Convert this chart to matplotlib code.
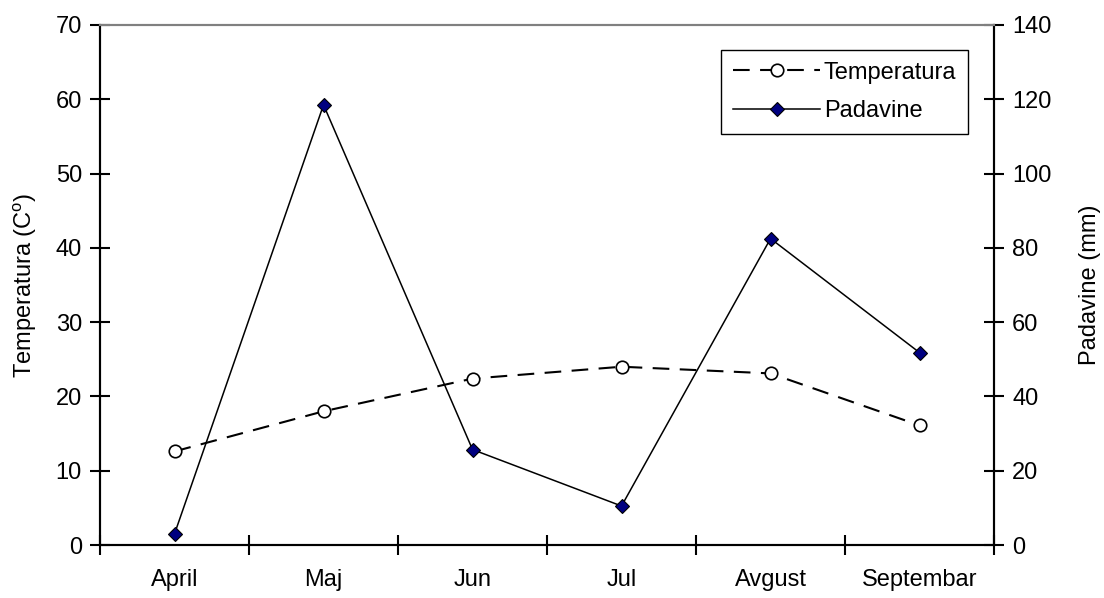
import matplotlib
matplotlib.use('Agg')
import matplotlib.pyplot as plt
from matplotlib.lines import Line2D

matplotlib.rcParams['font.family'] = 'Liberation Sans'
matplotlib.rcParams['mathtext.fontset'] = 'custom'
matplotlib.rcParams['mathtext.rm'] = 'Liberation Sans'
matplotlib.rcParams['axes.unicode_minus'] = False

# Data
months = ["April", "Maj", "Jun", "Jul", "Avgust", "Septembar"]
temperatura = [12.6, 18.0, 22.4, 24.0, 23.1, 16.1]
padavine = [3.0, 118.5, 25.7, 10.5, 82.5, 51.8]

FS = 17

fig = plt.figure(figsize=(11.04, 5.98), dpi=100)
ax = fig.add_axes([0.0906, 0.0886, 0.8098, 0.8696])
ax2 = ax.twinx()

x = list(range(len(months)))

ax.plot(x, temperatura, color='black', linewidth=1.5, dashes=(8, 5),
        marker='o', markersize=9, markerfacecolor='white',
        markeredgecolor='black', markeredgewidth=1.2, zorder=3)
ax2.plot(x, padavine, color='black', linewidth=1.1,
         marker='D', markersize=7, markerfacecolor='#000080',
         markeredgecolor='black', markeredgewidth=0.8, zorder=3)

# Axes limits and ticks
ax.set_xlim(-0.5, len(months) - 0.5)
ax.set_ylim(0, 70)
ax2.set_ylim(0, 140)
ax.set_yticks(range(0, 71, 10))
ax2.set_yticks(range(0, 141, 20))

ax.set_xticks([i - 0.5 for i in range(len(months) + 1)])
ax.set_xticklabels([])
ax.set_xticks(x, minor=True)
ax.set_xticklabels(months, minor=True)
ax.tick_params(axis='x', which='minor', length=0, pad=17, labelsize=FS)
ax.tick_params(axis='x', which='major', direction='inout', length=14, width=1.5)
ax.tick_params(axis='y', direction='inout', length=14, width=1.5, labelsize=FS, pad=6)
ax2.tick_params(axis='y', direction='inout', length=14, width=1.5, labelsize=FS, pad=6)

for a in (ax, ax2):
    a.spines['top'].set_color('#808080')
    a.spines['top'].set_linewidth(1.5)
    for s in ('left', 'right', 'bottom'):
        a.spines[s].set_linewidth(1.5)

ax.set_ylabel('Temperatura (C$^{\\rm o}$)', fontsize=FS, labelpad=12)
ax2.set_ylabel('Padavine (mm)', fontsize=FS, labelpad=20)

handles = [
    Line2D([], [], color='black', linewidth=1.5, dashes=(8, 5), marker='o',
           markersize=9, markerfacecolor='white', markeredgecolor='black',
           markeredgewidth=1.2),
    Line2D([], [], color='black', linewidth=1.1, marker='D', markersize=7,
           markerfacecolor='#000080', markeredgecolor='black', markeredgewidth=0.8),
]
leg = ax2.legend(handles, ["Temperatura", "Padavine"], loc='upper right',
                 bbox_to_anchor=(0.971, 0.952), fontsize=FS, fancybox=False,
                 framealpha=1, edgecolor='black', handlelength=3.7,
                 handletextpad=0.15, borderpad=0.5, labelspacing=0.7,
                 borderaxespad=0)
leg.get_frame().set_linewidth(1.0)

fig.savefig('out.png', dpi=100)
plt.close(fig)
